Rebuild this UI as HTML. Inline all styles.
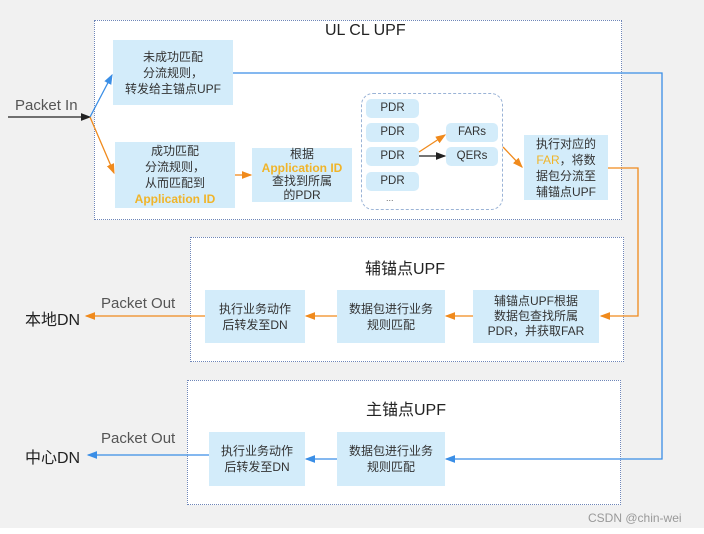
<!DOCTYPE html>
<html><head><meta charset="utf-8"><style>
body{margin:0;width:704px;height:534px;background:#f1f1f1;font-family:"Liberation Sans","Noto Sans CJK SC",sans-serif;overflow:hidden;position:relative}
.a{position:absolute}
.box{position:absolute;background:#d3ecfa;color:#333;font-size:12px;line-height:16px;text-align:center;display:flex;align-items:center;justify-content:center}
.box>div{display:block}
.dot{position:absolute;background:#fff;border:1.5px dotted #6f86b8;box-sizing:border-box}
.y{color:#f0b429;font-weight:bold}
.pdr{position:absolute;background:#d3ecfa;border-radius:5px;font-size:11.5px;color:#333;text-align:center;line-height:19px;height:19px}
</style></head><body>
<div class="a" style="left:0;top:528px;width:704px;height:6px;background:#fff"></div>
<div class="dot" style="left:94px;top:20px;width:528px;height:200px"></div>
<div class="dot" style="left:190px;top:237px;width:434px;height:125px"></div>
<div class="dot" style="left:187px;top:380px;width:434px;height:125px"></div>
<div class="a" style="left:325px;top:22px;font-size:16px;color:#222">UL CL UPF</div>
<div class="a" style="left:365px;top:255px;font-size:16px;color:#222">辅锚点UPF</div>
<div class="a" style="left:366px;top:396px;font-size:16px;color:#222">主锚点UPF</div>
<div class="a" style="left:361px;top:93px;width:142px;height:117px;border:1.5px dashed #9ab3d6;border-radius:12px;box-sizing:border-box"></div>
<div class="box" style="left:113px;top:40px;width:120px;height:65px"><div>未成功匹配<br>分流规则，<br>转发给主锚点UPF</div></div>
<div class="box" style="left:115px;top:142px;width:120px;height:66px"><div>成功匹配<br>分流规则，<br>从而匹配到<br><span class="y">Application ID</span></div></div>
<div class="box" style="left:252px;top:148px;width:100px;height:54px;line-height:13.5px"><div>根据<br><span class="y">Application ID</span><br>查找到所属<br>的PDR</div></div>
<div class="pdr" style="left:366px;top:99px;width:53px">PDR</div>
<div class="pdr" style="left:366px;top:123px;width:53px">PDR</div>
<div class="pdr" style="left:366px;top:147px;width:53px">PDR</div>
<div class="pdr" style="left:366px;top:172px;width:53px">PDR</div>
<div class="a" style="left:386px;top:193px;font-size:9px;color:#666">...</div>
<div class="pdr" style="left:446px;top:123px;width:52px">FARs</div>
<div class="pdr" style="left:446px;top:147px;width:52px">QERs</div>
<div class="box" style="left:524px;top:135px;width:84px;height:65px"><div>执行对应的<br><span style="color:#f0b429">FAR</span>，将数<br>据包分流至<br>辅锚点UPF</div></div>
<div class="box" style="left:205px;top:290px;width:100px;height:53px"><div>执行业务动作<br>后转发至DN</div></div>
<div class="box" style="left:337px;top:290px;width:108px;height:53px"><div>数据包进行业务<br>规则匹配</div></div>
<div class="box" style="left:473px;top:290px;width:126px;height:53px;line-height:15px"><div>辅锚点UPF根据<br>数据包查找所属<br>PDR，并获取FAR</div></div>
<div class="box" style="left:209px;top:432px;width:96px;height:54px"><div>执行业务动作<br>后转发至DN</div></div>
<div class="box" style="left:337px;top:432px;width:108px;height:54px"><div>数据包进行业务<br>规则匹配</div></div>
<div class="a" style="left:15px;top:97px;font-size:15px;color:#555">Packet In</div>
<div class="a" style="left:101px;top:295px;font-size:15px;color:#555">Packet Out</div>
<div class="a" style="left:101px;top:430px;font-size:15px;color:#555">Packet Out</div>
<div class="a" style="left:25px;top:306px;font-size:16px;color:#222">本地DN</div>
<div class="a" style="left:25px;top:444px;font-size:16px;color:#222">中心DN</div>
<div class="a" style="left:588px;top:511px;font-size:12px;color:#999">CSDN @chin-wei</div>
<svg class="a" style="left:0;top:0" width="704" height="534">
<defs>
<marker id="k" markerWidth="8" markerHeight="8" refX="7" refY="4" orient="auto"><path d="M0,1 L8,4 L0,7z" fill="#222"/></marker>
<marker id="o" markerWidth="8" markerHeight="8" refX="7" refY="4" orient="auto"><path d="M0,1 L8,4 L0,7z" fill="#f08a1c"/></marker>
<marker id="b" markerWidth="8" markerHeight="8" refX="7" refY="4" orient="auto"><path d="M0,1 L8,4 L0,7z" fill="#3a8ee6"/></marker>
</defs>
<g fill="none" stroke-width="1.3">
<path d="M8,117 H90" stroke="#222" marker-end="url(#k)"/>
<path d="M90,117 L112,75" stroke="#3a8ee6" marker-end="url(#b)"/>
<path d="M90,117 L114,173" stroke="#f08a1c" marker-end="url(#o)"/>
<path d="M235,175 H251" stroke="#f08a1c" marker-end="url(#o)"/>
<path d="M419,152 L445,135" stroke="#f08a1c" marker-end="url(#o)"/>
<path d="M419,156 H445" stroke="#222" marker-end="url(#k)"/>
<path d="M503,147 L522,167" stroke="#f08a1c" marker-end="url(#o)"/>
<path d="M233,73 H662 V459 H446" stroke="#3a8ee6" marker-end="url(#b)"/>
<path d="M608,168 H638 V316 H601" stroke="#f08a1c" marker-end="url(#o)"/>
<path d="M473,316 H446" stroke="#f08a1c" marker-end="url(#o)"/>
<path d="M337,316 H306" stroke="#f08a1c" marker-end="url(#o)"/>
<path d="M205,316 H86" stroke="#f08a1c" marker-end="url(#o)"/>
<path d="M337,459 H306" stroke="#3a8ee6" marker-end="url(#b)"/>
<path d="M209,455 H88" stroke="#3a8ee6" marker-end="url(#b)"/>
</g></svg>
</body></html>
